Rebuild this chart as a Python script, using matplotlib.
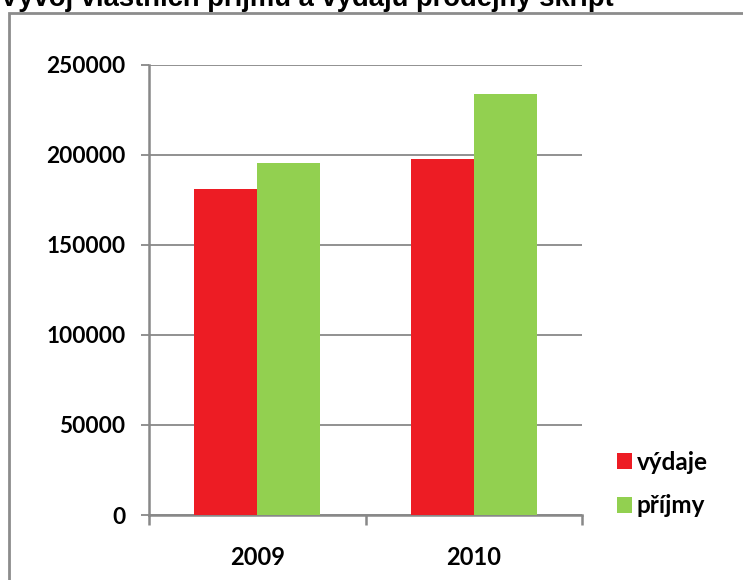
import matplotlib
matplotlib.use("Agg")
import matplotlib.pyplot as plt
from matplotlib.patches import Rectangle

title = "Vývoj vlastních příjmů a výdajů prodejny skript"
years = ["2009", "2010"]
series_names = ["výdaje", "příjmy"]
vydaje = [181000, 197500]
prijmy = [195500, 233500]
colors = ["#ED1C24", "#92D050"]
yticks = [0, 50000, 100000, 150000, 200000, 250000]

W, H = 743, 580
fig = plt.figure(figsize=(W / 100, H / 100), dpi=100)
fig.patch.set_facecolor("white")

# outer frame (chart area border)
frame = Rectangle((8.5 / W, -0.1), 2, 1 - 12.5 / H + 0.1, transform=fig.transFigure,
                  fill=False, edgecolor="#8C8C8C", linewidth=2.0, zorder=0)
fig.patches.append(frame)

# title (partially cut off at the top in the reference)
fig.text(0, 1 - 6.5 / H, title, ha="left", va="baseline", fontsize=19.7,
         fontweight="bold", family=["Liberation Sans", "DejaVu Sans"], color="black")

ax = fig.add_axes([149 / W, 1 - 515 / H, (582 - 149) / W, (515 - 64.7) / H])
ax.set_facecolor("none")

bw = 0.29
xs = list(range(len(years)))
ax.bar([x - bw / 2 for x in xs], vydaje, width=bw, color=colors[0], label=series_names[0], zorder=3)
ax.bar([x + bw / 2 for x in xs], prijmy, width=bw, color=colors[1], label=series_names[1], zorder=3)

ax.set_xlim(-0.5, len(years) - 0.5)
ax.set_ylim(0, 250000)

grid_c = "#888888"
ax.set_yticks(yticks)
ax.yaxis.grid(True, color=grid_c, linewidth=1.3, zorder=0)
ax.set_axisbelow(True)
for s in ["top", "right"]:
    ax.spines[s].set_visible(False)
for s in ["left", "bottom"]:
    ax.spines[s].set_color(grid_c)
    ax.spines[s].set_linewidth(1.8)

ylab_font = dict(family=["Lato", "DejaVu Sans"], fontweight="bold", fontsize=16.3)
xlab_font = dict(family=["Lato", "DejaVu Sans"], fontweight="bold", fontsize=17)
ax.set_yticklabels([str(v) for v in yticks], **ylab_font)
ax.tick_params(axis="y", length=6, width=1.3, color=grid_c, pad=11)

# x ticks at category boundaries, labels at centers
ax.set_xticks([x - 0.5 for x in range(len(years) + 1)])
ax.set_xticklabels([])
ax.tick_params(axis="x", which="major", length=7, width=1.8, color=grid_c)
ax.set_xticks(xs, minor=True)
ax.set_xticklabels(years, minor=True, **xlab_font)
ax.tick_params(axis="x", which="minor", length=0, pad=22)

leg = fig.legend(loc="center left", bbox_to_anchor=(617 / W, 1 - 484 / H), frameon=False,
                 prop=dict(family=["Lato", "DejaVu Sans"], weight="bold", size=17.5),
                 handlelength=0.62, handleheight=0.62, handletextpad=0.2,
                 labelspacing=0.85, borderpad=0, borderaxespad=0)

fig.savefig("out.png", dpi=100, facecolor="white")
